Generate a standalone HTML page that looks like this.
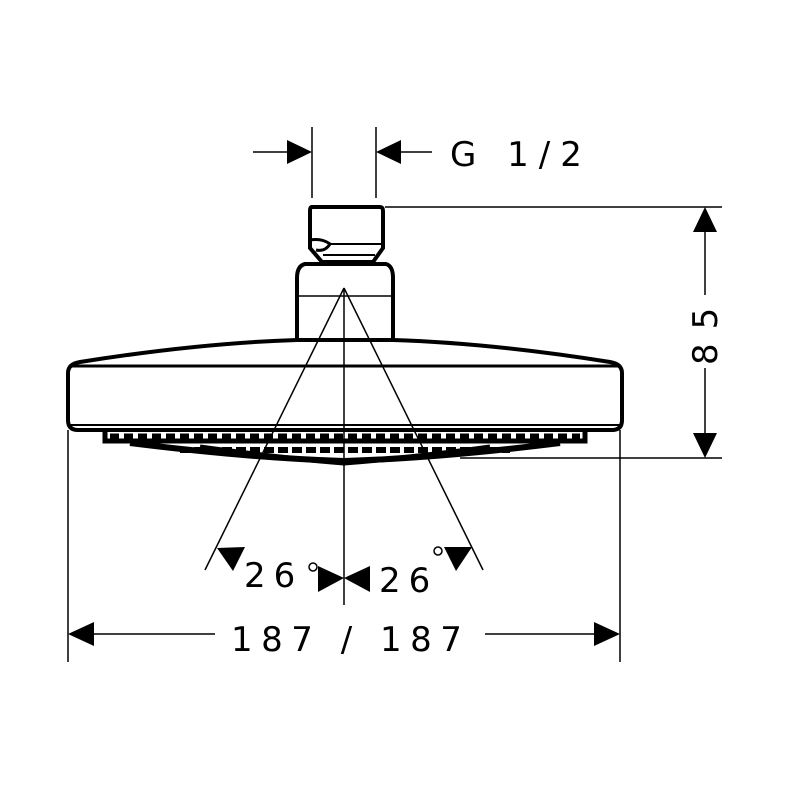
<html><body style="margin:0;background:#fff">
<svg width="791" height="791" viewBox="0 0 791 791" xmlns="http://www.w3.org/2000/svg" font-family="DejaVu Sans, sans-serif">
<g fill="none" stroke="#000">
<path d="M312 207 H380 Q383 207 383 211 V248 L373 262 H322 L310 248 V211 Q310 207 312 207 Z" stroke-width="4"/>
<path d="M310 240 Q322 238 330 244 Q325 252 316 250" stroke-width="3"/>
<path d="M330 244 H383 M323 255 H375" stroke-width="2"/>
<path d="M297 340 V278 Q297 266 305 264 H386 Q393 266 393 278 V340" stroke-width="4"/>
<line x1="297" y1="296" x2="393" y2="296" stroke-width="1.5"/>
<path d="M68 373 Q68 364 80 362 Q200 343 297 340 H393 Q490 343 610 362 Q622 364 622 373 V420 Q622 430 612 430 H78 Q68 430 68 420 Z" stroke-width="4"/>
<line x1="72" y1="366" x2="618" y2="366" stroke-width="3"/>
<line x1="70" y1="425" x2="620" y2="425" stroke-width="2"/>
<path d="M105 430 V441 H585 V430" stroke-width="5"/>
<path d="M130 443 Q250 458 344 461 Q440 458 560 443" stroke-width="6"/>
<path d="M200 447 Q280 458 344 463 Q410 458 490 447" stroke-width="5"/>
<path d="M110 436 H580" stroke-width="5" stroke-dasharray="9 5"/>
<path d="M180 450 H510" stroke-width="6" stroke-dasharray="10 4"/>
<g stroke-width="1.5">
<line x1="68" y1="430" x2="68" y2="662"/>
<line x1="620" y1="430" x2="620" y2="662"/>
<line x1="385" y1="207" x2="722" y2="207"/>
<line x1="460" y1="458" x2="722" y2="458"/>
<line x1="312" y1="127" x2="312" y2="198"/>
<line x1="376" y1="127" x2="376" y2="198"/>
<line x1="253" y1="152" x2="290" y2="152"/>
<line x1="398" y1="152" x2="432" y2="152"/>
<line x1="705" y1="230" x2="705" y2="295"/>
<line x1="705" y1="368" x2="705" y2="435"/>
<line x1="92" y1="634" x2="215" y2="634"/>
<line x1="485" y1="634" x2="596" y2="634"/>
<line x1="344" y1="288" x2="344" y2="605"/>
<line x1="344" y1="288" x2="205" y2="570"/>
<line x1="344" y1="288" x2="483" y2="570"/>
</g>
</g>
<g fill="#000">
<polygon points="312,152 287,140 287,164"/>
<polygon points="376,152 401,140 401,164"/>
<polygon points="705,207 693,232 717,232"/>
<polygon points="705,458 693,433 717,433"/>
<polygon points="68,634 94,622 94,646"/>
<polygon points="620,634 594,622 594,646"/>
<polygon points="344,578 318,566 318,592"/>
<polygon points="344,578 370,566 370,592"/>
<polygon points="217,548 245,547 233,571"/>
<polygon points="472,547 444,547 456,571"/>
</g>
<g font-size="34" fill="#000">
<text x="450" y="166" letter-spacing="10">G 1/2</text>
<text x="231" y="651" letter-spacing="8.5">187 / 187</text>
<text x="244" y="587" letter-spacing="8">26</text>
<text x="379" y="592" letter-spacing="8">26</text>
<text transform="translate(717 365) rotate(-90)" letter-spacing="14">85</text>
</g>
<circle cx="313" cy="567" r="4" fill="none" stroke="#000" stroke-width="1.5"/>
<circle cx="438" cy="551" r="4" fill="none" stroke="#000" stroke-width="1.5"/>
</svg>
</body></html>
